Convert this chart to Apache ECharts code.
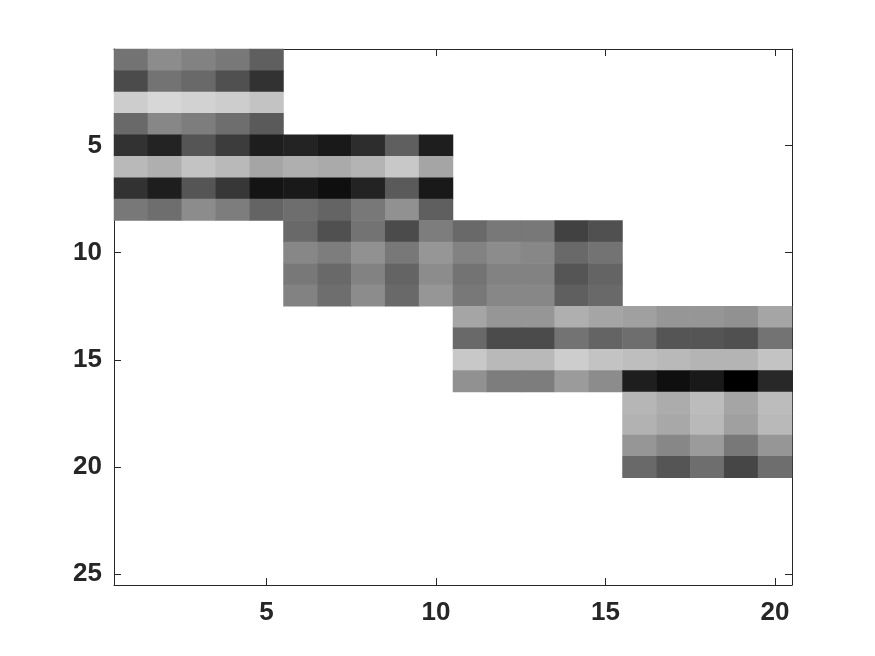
<!DOCTYPE html>
<html>
<head>
  <meta charset="utf-8" />
  <title></title>
  <style type="text/css">
  body, html, #main {width: 100%;height: 100%;overflow: hidden;margin:0;background:#fff;}
  </style>
  <script src="https://cdn.jsdelivr.net/npm/echarts@6/dist/echarts.min.js"></script>
</head>
<body>
<div id="main"></div>
<script type="text/javascript">
// gray level of each cell (0 black .. 255 white), read block by block
var blockA = [   // rows 1-8, cols 1-5
    [115, 140, 130, 120, 95],
    [75, 115, 105, 80, 50],
    [205, 215, 210, 205, 195],
    [105, 135, 125, 110, 90],
    [50, 35, 85, 60, 30],
    [185, 175, 195, 185, 165],
    [50, 30, 85, 55, 20],
    [120, 110, 140, 125, 100]
];
var blockB = [   // rows 5-8, cols 6-10
    [35, 25, 45, 95, 30],
    [175, 170, 180, 200, 165],
    [25, 15, 35, 90, 25],
    [110, 100, 120, 145, 95]
];
var blockC = [   // rows 9-12, cols 6-15
    [105, 80, 115, 75, 125, 105, 120, 120, 65, 80],
    [135, 125, 145, 120, 150, 130, 140, 135, 105, 115],
    [120, 105, 130, 100, 140, 115, 130, 130, 85, 100],
    [130, 110, 140, 105, 150, 120, 135, 135, 95, 105]
];
var blockD = [   // rows 13-16, cols 11-20
    [165, 150, 150, 175, 165, 160, 150, 150, 145, 165],
    [105, 75, 75, 115, 100, 110, 85, 85, 80, 115],
    [200, 185, 185, 205, 195, 190, 185, 180, 180, 195],
    [145, 125, 125, 155, 140, 30, 15, 25, 0, 40]
];
var blockE = [   // rows 17-20, cols 16-20
    [182, 172, 188, 165, 188],
    [178, 168, 185, 160, 185],
    [150, 135, 155, 120, 150],
    [105, 85, 110, 70, 110]
];
// first row / first column of each block
var blocks = [blockA, blockB, blockC, blockD, blockE];
var blockStart = [[1, 1], [5, 6], [9, 6], [13, 11], [17, 16]];
var nCols = 20, nRows = 25;

var xCats = [], yCats = [];
for (var i = 1; i <= nCols; i++) xCats.push(String(i));
for (var j = 1; j <= nRows; j++) yCats.push(String(j));

var cells = [];
blocks.forEach(function (b, k) {
    var r0 = blockStart[k][0], c0 = blockStart[k][1];
    b.forEach(function (row, r) {
        row.forEach(function (v, c) {
            cells.push([c0 + c - 1, r0 + r - 1, v]);
        });
    });
});

var every5 = function (idx) { return (idx + 1) % 5 === 0; };
var lineCol = '#262626';
var labelStyle = {color: lineCol, fontSize: 26, fontWeight: 'bold', fontFamily: 'Liberation Sans, Arial, sans-serif'};

function mkAxis(cats, pos, showLabel, inverse) {
    return {
        type: 'category',
        data: cats,
        position: pos,
        inverse: !!inverse,
        boundaryGap: true,
        axisLine: {show: true, onZero: false, lineStyle: {color: lineCol, width: 1}},
        axisTick: {show: true, inside: true, length: 7, alignWithLabel: true, interval: every5, lineStyle: {color: lineCol}},
        axisLabel: Object.assign({show: showLabel, interval: every5, margin: 12}, labelStyle),
        splitLine: {show: false}
    };
}

var chart = echarts.init(document.getElementById('main'));
var option = {
    animation: false,
    backgroundColor: '#fff',
    grid: {left: 114, top: 49, width: 678, height: 536, containLabel: false},
    xAxis: [mkAxis(xCats, 'bottom', true), mkAxis(xCats, 'top', false)],
    yAxis: [mkAxis(yCats, 'left', true, true), mkAxis(yCats, 'right', false, true)],
    visualMap: {
        type: 'continuous',
        show: false,
        min: 0,
        max: 255,
        dimension: 2,
        inRange: {color: ['#000000', '#ffffff']}
    },
    series: [{
        type: 'heatmap',
        xAxisIndex: 0,
        yAxisIndex: 0,
        data: cells,
        itemStyle: {borderWidth: 0},
        emphasis: {disabled: true}
    }]
};
option.xAxis[0].axisLabel.margin = 15;
option.yAxis[0].axisLabel.padding = [5, 0, 0, 0];
chart.setOption(option);
</script>
</body>
</html>
